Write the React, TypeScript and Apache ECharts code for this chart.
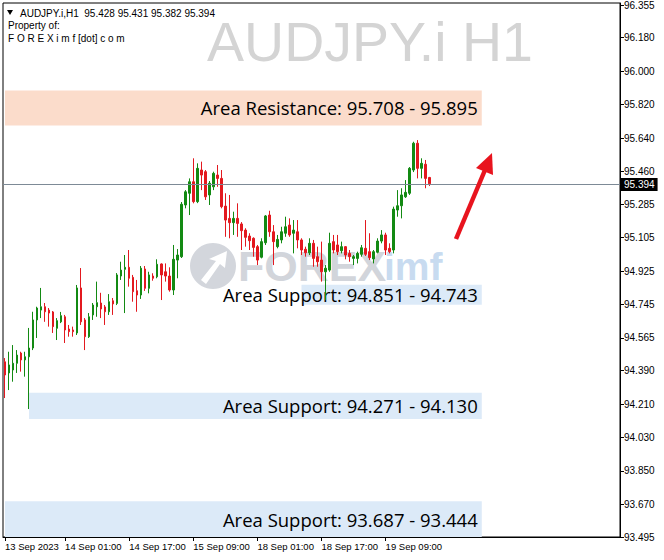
import React, { useEffect, useRef } from "react";
import * as echarts from "echarts";

// ---------- data ----------
const days = ["13 Sep", "14 Sep", "15 Sep", "18 Sep", "19 Sep"];
const firstHour = 10;
const barCount = 107;

const opens = [
  94.437, 94.377, 94.393, 94.429, 94.484, 94.447, 94.464, 94.511, 94.662, 94.715,
  94.733, 94.715, 94.705, 94.617, 94.652, 94.679, 94.613, 94.608, 94.592, 94.834,
  94.662, 94.572, 94.689, 94.733, 94.753, 94.732, 94.706, 94.765, 94.751, 94.898,
  94.934, 94.945, 94.891, 94.819, 94.796, 94.936, 94.832, 94.898, 94.894, 94.963,
  94.921, 94.898, 94.823, 94.984, 95.002, 95.280, 95.343, 95.405, 95.298, 95.468,
  95.459, 95.334, 95.378, 95.441, 95.423, 95.274, 95.208, 95.185, 95.208, 95.178,
  95.145, 95.113, 95.101, 95.056, 94.999, 95.077, 95.226, 95.136, 95.056, 95.092,
  95.128, 95.172, 95.128, 95.136, 95.092, 95.042, 95.023, 95.074, 95.002, 94.984,
  94.921, 94.930, 95.083, 95.065, 95.034, 95.056, 95.020, 94.993, 94.993, 95.015,
  95.047, 95.029, 94.990, 95.026, 95.086, 95.119, 95.047, 95.038, 95.253, 95.276,
  95.324, 95.343, 95.468, 95.612, 95.477, 95.499, 95.428,
];
const highs = [
  94.457, 94.491, 94.527, 94.500, 94.491, 94.491, 94.619, 94.706, 94.733, 94.834,
  94.753, 94.726, 94.710, 94.672, 94.705, 94.689, 94.635, 94.626, 94.850, 94.941,
  94.672, 94.699, 94.753, 94.868, 94.808, 94.742, 94.801, 94.780, 94.914, 94.975,
  95.011, 95.038, 94.904, 94.877, 94.952, 94.952, 94.921, 94.913, 94.988, 94.966,
  94.966, 94.945, 95.065, 95.043, 95.296, 95.360, 95.423, 95.531, 95.504, 95.513,
  95.468, 95.409, 95.459, 95.495, 95.468, 95.343, 95.334, 95.244, 95.289, 95.188,
  95.155, 95.128, 95.106, 95.065, 95.101, 95.226, 95.249, 95.172, 95.119, 95.163,
  95.217, 95.208, 95.199, 95.199, 95.101, 95.056, 95.101, 95.092, 95.056, 95.083,
  94.957, 95.131, 95.119, 95.119, 95.083, 95.059, 95.038, 95.011, 95.029, 95.065,
  95.199, 95.128, 95.038, 95.101, 95.145, 95.131, 95.074, 95.271, 95.360, 95.370,
  95.414, 95.484, 95.620, 95.629, 95.531, 95.522, 95.431,
];
const lows = [
  94.242, 94.285, 94.330, 94.377, 94.384, 94.357, 94.183, 94.500, 94.565, 94.672,
  94.652, 94.626, 94.592, 94.554, 94.645, 94.538, 94.572, 94.572, 94.581, 94.635,
  94.500, 94.565, 94.662, 94.679, 94.672, 94.635, 94.689, 94.689, 94.742, 94.877,
  94.699, 94.841, 94.760, 94.706, 94.775, 94.818, 94.805, 94.873, 94.886, 94.769,
  94.868, 94.814, 94.796, 94.886, 94.995, 95.262, 95.226, 95.289, 95.290, 95.360,
  95.307, 95.280, 95.360, 95.378, 95.262, 95.109, 95.101, 95.119, 95.109, 95.038,
  95.056, 95.038, 95.002, 94.957, 94.993, 95.065, 95.109, 94.957, 95.047, 95.074,
  95.109, 95.109, 95.020, 95.047, 95.011, 95.002, 95.011, 94.948, 94.948, 94.868,
  94.769, 94.921, 95.020, 95.011, 95.020, 94.988, 94.975, 94.957, 94.966, 95.002,
  95.006, 94.984, 94.966, 95.020, 95.074, 95.011, 95.020, 95.020, 95.217, 95.208,
  95.318, 95.334, 95.457, 95.423, 95.423, 95.370, 95.382,
];
const closes = [
  94.366, 94.420, 94.429, 94.473, 94.447, 94.464, 94.511, 94.662, 94.726, 94.733,
  94.706, 94.699, 94.626, 94.658, 94.685, 94.608, 94.599, 94.599, 94.834, 94.652,
  94.572, 94.679, 94.742, 94.755, 94.721, 94.706, 94.760, 94.748, 94.904, 94.930,
  94.945, 94.886, 94.814, 94.796, 94.940, 94.832, 94.904, 94.886, 94.961, 94.904,
  94.898, 94.823, 94.988, 95.011, 95.284, 95.351, 95.405, 95.298, 95.477, 95.441,
  95.324, 95.397, 95.450, 95.423, 95.271, 95.199, 95.185, 95.208, 95.181, 95.142,
  95.106, 95.088, 95.052, 94.984, 95.083, 95.221, 95.136, 95.083, 95.095, 95.136,
  95.163, 95.119, 95.145, 95.092, 95.038, 95.023, 95.074, 94.993, 94.975, 94.921,
  94.940, 95.074, 95.038, 95.029, 95.056, 95.011, 95.002, 95.002, 95.020, 95.050,
  95.015, 94.997, 95.029, 95.086, 95.119, 95.038, 95.029, 95.258, 95.276, 95.334,
  95.348, 95.477, 95.612, 95.477, 95.504, 95.423, 95.394,
];

const yTicks = [
  96.355, 96.18, 96.0, 95.82, 95.64, 95.46, 95.285, 95.105, 94.925, 94.745,
  94.565, 94.39, 94.21, 94.03, 93.85, 93.67, 93.495,
];
const yMin = 93.495;
const yMax = 96.366;

const xTickCats = ["13 Sep 10:00", "14 Sep 01:00", "14 Sep 17:00", "15 Sep 09:00", "18 Sep 01:00", "18 Sep 17:00", "19 Sep 09:00"];
const xTickLabels = ["13 Sep 2023", "14 Sep 01:00", "14 Sep 17:00", "15 Sep 09:00", "18 Sep 01:00", "18 Sep 17:00", "19 Sep 09:00"];

const lastPrice = 95.394;
const headerText = "AUDJPY.i,H1  95.428 95.431 95.382 95.394";
const watermark = "AUDJPY.i H1";

const zoneResistance = { label: "Area Resistance: 95.708 - 95.895", top: 95.895, bottom: 95.708, from: 0, to: 119 };
const zoneSupports = [
  { label: "Area Support: 94.851 - 94.743", top: 94.851, bottom: 94.743, from: 74, to: 119 },
  { label: "Area Support: 94.271 - 94.130", top: 94.271, bottom: 94.13, from: 6, to: 119 },
  { label: "Area Support: 93.687 - 93.444", top: 93.687, bottom: 93.444, from: 0, to: 119 },
];

const totalSlots = 154;

function buildTimes(): string[] {
  const out: string[] = [];
  let d = 0;
  let h = firstHour;
  while (out.length < barCount) {
    out.push(`${days[d]} ${String(h).padStart(2, "0")}:00`);
    h++;
    if (h > 23) {
      h = 0;
      d++;
    }
  }
  return out;
}

export default function App() {
  const ref = useRef<HTMLDivElement>(null);

  useEffect(() => {
    if (!ref.current) return;
    const chart = echarts.init(ref.current, null, { renderer: "svg" });
    const times = buildTimes();
    const cats = times.concat(
      Array.from({ length: totalSlots - times.length }, (_, i) => `pad${i}`)
    );
    const tickIdx = xTickCats.map((c) => cats.indexOf(c));
    const candleData = opens.map((o, i) => [o, closes[i], lows[i], highs[i]]);

    const zoneLabel = {
      show: true,
      position: "insideRight" as const,
      color: "#000",
      fontSize: 18.5,
      fontFamily: "Open Sans",
      distance: 4,
    };
    const allZones = [
      { ...zoneResistance, color: "#fbdccb" },
      ...zoneSupports.map((z) => ({ ...z, color: "#dceaf8" })),
    ];

    const font = "Liberation Sans";

    chart.setOption({
      animation: false,
      backgroundColor: "#fff",
      grid: {
        left: 3,
        top: 3,
        right: 44,
        bottom: 23,
        show: true,
        borderColor: "#000",
        borderWidth: 1,
        backgroundColor: "transparent",
      },
      xAxis: {
        type: "category",
        data: cats,
        boundaryGap: true,
        axisLine: { show: true, lineStyle: { color: "#000", width: 1 } },
        axisTick: {
          show: true,
          alignWithLabel: true,
          length: 4,
          lineStyle: { color: "#000" },
          interval: (i: number) => tickIdx.includes(i),
        },
        axisLabel: {
          show: true,
          interval: (i: number) => tickIdx.includes(i),
          formatter: (v: string) => {
            const k = xTickCats.indexOf(v);
            return k >= 0 ? xTickLabels[k] : "";
          },
          align: "left",
          margin: 4,
          color: "#000",
          fontSize: 9.5,
          fontFamily: font,
        },
        splitLine: { show: false },
      },
      yAxis: {
        type: "value",
        position: "right",
        min: yMin,
        max: yMax,
        scale: true,
        axisLine: { show: true, lineStyle: { color: "#000", width: 1 } },
        axisTick: {
          show: true,
          length: 4,
          lineStyle: { color: "#000" },
          customValues: yTicks,
        },
        axisLabel: {
          show: true,
          customValues: yTicks,
          formatter: (v: number) => v.toFixed(3),
          margin: 4,
          color: "#000",
          fontSize: 10,
          fontFamily: font,
        },
        splitLine: { show: false },
      },
      series: [
        {
          type: "candlestick",
          data: candleData,
          barWidth: 2,
          itemStyle: {
            color: "#138a13",
            color0: "#e3191f",
            borderColor: "#138a13",
            borderColor0: "#e3191f",
            borderWidth: 1,
          },
          z: 3,
          markArea: {
            silent: true,
            z: 1,
            data: allZones.map((z) => [
              {
                xAxis: z.from,
                yAxis: z.top,
                itemStyle: { color: z.color },
                label: { ...zoneLabel },
                name: z.label,
              },
              { xAxis: z.to, yAxis: z.bottom },
            ]),
            label: { ...zoneLabel, formatter: (p: any) => p.name },
          },
          markLine: {
            silent: true,
            symbol: ["none", "none"],
            animation: false,
            lineStyle: { color: "#7d8a96", width: 1, type: "solid" },
            data: [{ yAxis: lastPrice }],
            label: {
              show: true,
              position: "end",
              formatter: () => lastPrice.toFixed(3),
              backgroundColor: "#000",
              color: "#fff",
              padding: [2, 3, 1, 3],
              fontSize: 10,
              fontFamily: font,
              distance: 1,
            },
          },
        },
      ],
      graphic: [
        {
          type: "text",
          x: 533,
          y: 42,
          z: 0,
          silent: true,
          style: {
            text: watermark,
            fill: "#d4d4d4",
            font: "55.5px 'Liberation Sans'",
            align: "right",
            verticalAlign: "middle",
          },
        },
        {
          type: "circle",
          shape: { cx: 213, cy: 266, r: 23 },
          style: { fill: "rgba(196,200,208,0.75)" },
          z: 0,
          silent: true,
        },
        {
          type: "polygon",
          shape: { points: [[201, 280], [216, 261], [209, 259], [227, 251], [225, 268], [220, 264], [206, 284]] },
          style: { fill: "#ffffff" },
          z: 0,
          silent: true,
        },
        {
          type: "text",
          x: 238,
          y: 266,
          z: 0,
          silent: true,
          style: {
            text: "FOREX",
            fill: "rgba(196,200,208,0.75)",
            font: "bold 43px 'Liberation Sans'",
            verticalAlign: "middle",
          },
        },
        {
          type: "text",
          x: 384,
          y: 266,
          z: 0,
          silent: true,
          style: {
            text: "imf",
            fill: "rgba(185,210,236,0.8)",
            font: "bold 39px 'Liberation Sans'",
            verticalAlign: "middle",
          },
        },
        {
          type: "polygon",
          shape: { points: [[7, 10], [13, 10], [10, 15]] },
          style: { fill: "#000" },
          z: 10,
        },
        {
          type: "text",
          x: 20,
          y: 13,
          z: 10,
          style: { text: headerText, fill: "#000", font: "10px 'Liberation Sans'", verticalAlign: "middle" },
        },
        {
          type: "text",
          x: 8,
          y: 25,
          z: 10,
          style: { text: "Property of:", fill: "#000", font: "10px 'Liberation Sans'", verticalAlign: "middle" },
        },
        {
          type: "text",
          x: 8,
          y: 38,
          z: 10,
          style: { text: "F O R E X i m f [dot] c o m", fill: "#000", font: "10px 'Liberation Sans'", verticalAlign: "middle" },
        },
        {
          type: "line",
          shape: { x1: 456, y1: 239, x2: 485, y2: 170 },
          style: { stroke: "#e8141e", lineWidth: 4.5 },
          z: 10,
        },
        {
          type: "polygon",
          shape: { points: [[492, 153], [476, 168], [493, 175]] },
          style: { fill: "#e8141e" },
          z: 10,
        },
      ],
    });

    return () => chart.dispose();
  }, []);

  return (
    <div
      ref={ref}
      style={{ position: "absolute", left: 0, top: 0, width: 664, height: 560 }}
    />
  );
}
